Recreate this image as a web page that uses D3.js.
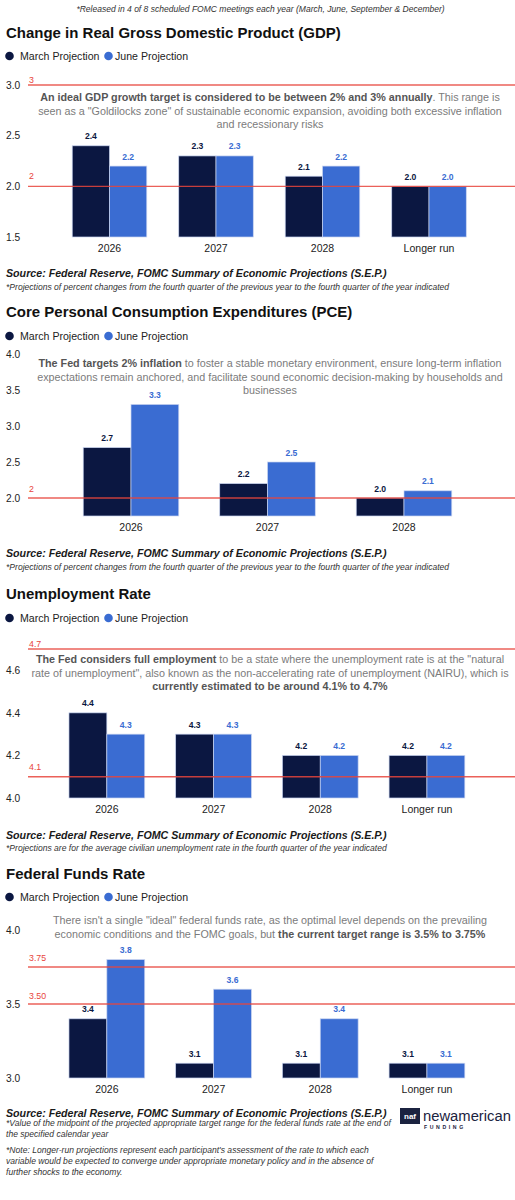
<!DOCTYPE html>
<html><head><meta charset="utf-8">
<script src="https://cdn.jsdelivr.net/npm/d3@7"></script>
<style>body{margin:0;background:#fff}svg{display:block;font-family:"Liberation Sans",Arial,Helvetica,sans-serif}</style>
</head><body><svg id="c" width="515" height="1200"></svg>
<script>
// ---------- DATA ----------
const seriesNames = ["March Projection", "June Projection"];

const gdpCategories = ["2026", "2027", "2028", "Longer run"];
const gdpMarch = [2.4, 2.3, 2.1, 2.0];
const gdpJune = [2.2, 2.3, 2.2, 2.0];
const gdpTicks = [1.5, 2.0, 2.5, 3.0];
const gdpTargets = [3, 2];
const gdpTargetLabels = ["3", "2"];

const pceCategories = ["2026", "2027", "2028"];
const pceMarch = [2.7, 2.2, 2.0];
const pceJune = [3.3, 2.5, 2.1];
const pceTicks = [2.0, 2.5, 3.0, 3.5, 4.0];
const pceTargets = [2];
const pceTargetLabels = ["2"];

const unempCategories = ["2026", "2027", "2028", "Longer run"];
const unempMarch = [4.4, 4.3, 4.2, 4.2];
const unempJune = [4.3, 4.3, 4.2, 4.2];
const unempTicks = [4.0, 4.2, 4.4, 4.6];
const unempTargets = [4.7, 4.1];
const unempTargetLabels = ["4.7", "4.1"];

const ffrCategories = ["2026", "2027", "2028", "Longer run"];
const ffrMarch = [3.4, 3.1, 3.1, 3.1];
const ffrJune = [3.8, 3.6, 3.4, 3.1];
const ffrTicks = [3.0, 3.5, 4.0];
const ffrTargets = [3.75, 3.5];
const ffrTargetLabels = ["3.75", "3.50"];

const topNote = "*Released in 4 of 8 scheduled FOMC meetings each year (March, June, September & December)";
const sourceText = "Source: Federal Reserve, FOMC Summary of Economic Projections (S.E.P.)";

// ---------- STYLE ----------
const C_MARCH = "#0b1741", C_JUNE = "#3a6cd2", C_RED = "#e8453c";
const FONT_TITLE = 15.5, FONT_ANN = 10.5, FONT_SRC = 10.5, FONT_FOOT = 8;

const svg = d3.select("#c");

function fitSize(sel, w) {
  const fs = parseFloat(sel.attr("font-size"));
  const cur = sel.node().getBBox().width;
  return cur > 0 ? fs * w / cur : fs;
}

// top note
const tn = svg.append("text").attr("x", 260.5).attr("y", 9).attr("text-anchor", "middle")
  .attr("dominant-baseline", "central").attr("font-size", 8).attr("font-style", "italic")
  .attr("fill", "#333").text(topNote);
tn.attr("font-size", fitSize(tn, 369));

// compute common sizes
const probe = svg.append("text").attr("font-size", 10).attr("font-weight", "bold").attr("font-style","italic").text(sourceText);
const srcSize = fitSize(probe, 382); probe.remove();
const probe2 = svg.append("text").attr("font-size", 10).attr("font-style","italic")
  .text("*Projections of percent changes from the fourth quarter of the previous year to the fourth quarter of the year indicated");
const footSize = fitSize(probe2, 444); probe2.remove();
const probe3 = svg.append("text").attr("font-size", 10).attr("font-weight", "bold").text("Change in Real Gross Domestic Product (GDP)");
const titleSize = fitSize(probe3, 335); probe3.remove();

const charts = [
  { title: "Change in Real Gross Domestic Product (GDP)", titleY: 32, legendY: 56,
    cats: gdpCategories, a: gdpMarch, b: gdpJune, ticks: gdpTicks,
    domain: [1.5, 3.0], yRange: [237, 85], xRange: [56.25, 482.25], pad: 0.3,
    targets: gdpTargets, tLabels: gdpTargetLabels, tDy: [-5, -10],
    ann: [[["An ideal GDP growth target is considered to be between 2% and 3% annually", true], [". This range is", false]],
          [["seen as a \"Goldilocks zone\" of sustainable economic expansion, avoiding both excessive inflation", false]],
          [["and recessionary risks", false]]],
    annY: [97, 110.5, 124], annX: 270,
    srcY: 273, foot: [["*Projections of percent changes from the fourth quarter of the previous year to the fourth quarter of the year indicated", 287]] },
  { title: "Core Personal Consumption Expenditures (PCE)", titleY: 311, legendY: 336,
    cats: pceCategories, a: pceMarch, b: pceJune, ticks: pceTicks,
    domain: [1.75, 4.0], yRange: [516, 354], xRange: [62.75, 472.25], pad: 0.3,
    targets: pceTargets, tLabels: pceTargetLabels, tDy: [-9.5],
    ann: [[["The Fed targets 2% inflation", true], [" to foster a stable monetary environment, ensure long-term inflation", false]],
          [["expectations remain anchored, and facilitate sound economic decision-making by households and", false]],
          [["businesses", false]]],
    annY: [363, 377, 390], annX: 270,
    srcY: 553, foot: [["*Projections of percent changes from the fourth quarter of the previous year to the fourth quarter of the year indicated", 567]] },
  { title: "Unemployment Rate", titleY: 593.5, legendY: 618,
    cats: unempCategories, a: unempMarch, b: unempJune, ticks: unempTicks,
    domain: [4.0, 4.7], yRange: [798, 649], xRange: [53.5, 480.3], pad: 0.29,
    targets: unempTargets, tLabels: unempTargetLabels, tDy: [-5.5, -10],
    ann: [[["The Fed considers full employment", true], [" to be a state where the unemployment rate is at the \"natural", false]],
          [["rate of unemployment\", also known as the non-accelerating rate of unemployment (NAIRU), which is", false]],
          [["currently estimated to be around 4.1% to 4.7%", true]]],
    annY: [659, 673, 686], annX: 270,
    srcY: 835, foot: [["*Projections are for the average civilian unemployment rate in the fourth quarter of the year indicated", 848]] },
  { title: "Federal Funds Rate", titleY: 873, legendY: 897,
    cats: ffrCategories, a: ffrMarch, b: ffrJune, ticks: ffrTicks,
    domain: [3.0, 4.0], yRange: [1078, 930], xRange: [53.5, 480.3], pad: 0.29,
    targets: ffrTargets, tLabels: ffrTargetLabels, tDy: [-9.5, -8.5],
    ann: [[["There isn't a single \"ideal\" federal funds rate, as the optimal level depends on the prevailing", false]],
          [["economic conditions and the FOMC goals, but ", false], ["the current target range is 3.5% to 3.75%", true]]],
    annY: [920, 934], annX: 270,
    srcY: 1113, foot: [["*Value of the midpoint of the projected appropriate target range for the federal funds rate at the end of", 1123],
                       ["the specified calendar year", 1134],
                       ["*Note: Longer-run projections represent each participant's assessment of the rate to which each", 1149.5],
                       ["variable would be expected to converge under appropriate monetary policy and in the absence of", 1160.5],
                       ["further shocks to the economy.", 1171.5]] }
];

let annSize = null;

charts.forEach(cfg => {
  const g = svg.append("g");
  // title
  g.append("text").attr("x", 6).attr("y", cfg.titleY).attr("dominant-baseline", "central")
    .attr("font-size", titleSize).attr("font-weight", "bold").attr("fill", "#111").text(cfg.title);
  // legend
  const lg = g.append("g");
  [[9.5, 20, C_MARCH, seriesNames[0]], [108.5, 115, C_JUNE, seriesNames[1]]].forEach(([cx, tx, col, name]) => {
    lg.append("circle").attr("cx", cx).attr("cy", cfg.legendY).attr("r", 4.3).attr("fill", col);
    lg.append("text").attr("x", tx).attr("y", cfg.legendY).attr("dominant-baseline", "central")
      .attr("font-size", 10.6).attr("fill", "#222").text(name);
  });

  const x = d3.scaleBand().domain(cfg.cats).range(cfg.xRange).paddingInner(cfg.pad).paddingOuter(cfg.pad / 2);
  const xs = d3.scaleBand().domain([0, 1]).range([0, x.bandwidth()]);
  const y = d3.scaleLinear().domain(cfg.domain).range(cfg.yRange);
  const base = y(cfg.domain[0]);

  // y axis
  const ya = g.append("g").call(d3.axisLeft(y).tickValues(cfg.ticks).tickSize(0).tickFormat(d3.format(".1f")));
  ya.select(".domain").remove();
  ya.selectAll("text").attr("x", 6).attr("dx", null).attr("text-anchor", "start")
    .attr("font-size", 10.2).attr("fill", "#222").attr("font-family", null);

  // annotation
  cfg.ann.forEach((line, i) => {
    const t = g.append("text").attr("x", cfg.annX).attr("y", cfg.annY[i]).attr("text-anchor", "middle")
      .attr("dominant-baseline", "central").attr("font-size", FONT_ANN);
    line.forEach(([s, b]) => t.append("tspan").text(s).attr("font-weight", b ? "bold" : "normal").attr("fill", b ? "#555" : "#7b7b7b"));
    if (annSize === null) annSize = fitSize(t, 460);
    t.attr("font-size", annSize);
  });

  // bars
  const series = [cfg.a, cfg.b];
  const cols = [C_MARCH, C_JUNE];
  series.forEach((vals, si) => {
    g.append("g").selectAll("rect").data(vals).join("rect")
      .attr("x", (d, i) => x(cfg.cats[i]) + xs(si))
      .attr("width", xs.bandwidth())
      .attr("y", d => y(d))
      .attr("height", d => base - y(d))
      .attr("fill", cols[si]).attr("stroke", "#c9d4f0").attr("stroke-width", 0.7);
    g.append("g").selectAll("text").data(vals).join("text")
      .attr("x", (d, i) => x(cfg.cats[i]) + xs(si) + xs.bandwidth() / 2)
      .attr("y", d => y(d) - 9.5)
      .attr("text-anchor", "middle").attr("dominant-baseline", "central")
      .attr("font-size", 8.6).attr("font-weight", "bold").attr("fill", cols[si])
      .text(d => d3.format(".1f")(d));
  });

  // target lines
  cfg.targets.forEach((v, i) => {
    g.append("line").attr("x1", 28).attr("x2", 515).attr("y1", y(v)).attr("y2", y(v))
      .attr("stroke", C_RED).attr("stroke-width", 1.4).attr("stroke-opacity", 0.85);
    g.append("text").attr("x", 29).attr("y", y(v) + cfg.tDy[i]).attr("dominant-baseline", "central")
      .attr("font-size", 8.8).attr("fill", C_RED).text(cfg.tLabels[i]);
  });

  // x axis
  const xa = g.append("g").attr("transform", `translate(0,${base})`).call(d3.axisBottom(x).tickSize(0).tickPadding(0));
  xa.select(".domain").remove();
  xa.selectAll("text").attr("dy", null).attr("y", 10.5).attr("dominant-baseline", "central")
    .attr("font-size", 10.5).attr("fill", "#222").attr("font-family", null);

  // source + footnotes
  g.append("text").attr("x", 6).attr("y", cfg.srcY).attr("dominant-baseline", "central")
    .attr("font-size", srcSize).attr("font-weight", "bold").attr("font-style", "italic").attr("fill", "#1a1a1a").text(sourceText);
  cfg.foot.forEach(([s, fy]) => {
    g.append("text").attr("x", 6).attr("y", fy).attr("dominant-baseline", "central")
      .attr("font-size", footSize).attr("font-style", "italic").attr("fill", "#333").text(s);
  });
});

// logo
const logo = svg.append("g");
logo.append("rect").attr("x", 400).attr("y", 1108).attr("width", 20).attr("height", 16).attr("fill", "#1b2340");
logo.append("text").attr("x", 410).attr("y", 1116.5).attr("text-anchor", "middle").attr("dominant-baseline", "central")
  .attr("font-size", 8).attr("font-weight", "bold").attr("fill", "#fff").text("naf");
const nm = logo.append("text").attr("x", 423).attr("y", 1120.5).attr("font-size", 15).attr("fill", "#1b2340").text("newamerican");
nm.attr("font-size", fitSize(nm, 88));
logo.append("text").attr("x", 424).attr("y", 1129).attr("font-size", 5.2).attr("font-weight", "bold")
  .attr("letter-spacing", 2.6).attr("fill", "#1b2340").text("FUNDING");
</script></body></html>
